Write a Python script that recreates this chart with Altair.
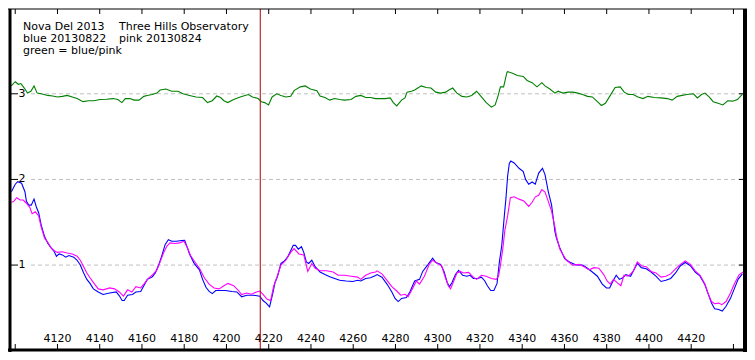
import altair as alt
import pandas as pd

# ---- data (wavelength in Angstrom, relative flux) ----
BLUE = [(4098.2,1.856),(4100.0,1.944),(4101.2,1.974),(4103.0,1.956),(4104.6,1.856),(4105.3,1.744),(4106.4,1.70),(4107.6,1.70),(4108.9,1.77),(4110.0,1.678),(4111.1,1.611),(4112.3,1.467),(4113.9,1.333),(4115.4,1.256),(4116.9,1.203),(4118.5,1.156),(4119.5,1.103),(4120.8,1.13),(4122.3,1.119),(4123.9,1.092),(4125.4,1.111),(4127.7,1.092),(4129.3,1.056),(4130.8,1.0),(4132.4,0.908),(4133.9,0.833),(4135.4,0.786),(4137.0,0.722),(4139.3,0.686),(4141.6,0.656),(4144.7,0.674),(4147.8,0.686),(4149.3,0.641),(4150.6,0.586),(4151.6,0.586),(4153.2,0.648),(4155.5,0.656),(4157.1,0.686),(4159.4,0.692),(4160.5,0.741),(4162.5,0.833),(4164.8,0.859),(4166.3,0.908),(4167.9,1.0),(4169.4,1.111),(4171.0,1.241),(4172.5,1.297),(4174.1,1.278),(4176.4,1.278),(4178.7,1.286),(4180.2,1.289),(4181.5,1.203),(4182.5,1.13),(4184.7,1.02),(4187.2,0.944),(4188.7,0.833),(4190.3,0.741),(4191.8,0.692),(4193.3,0.667),(4194.9,0.703),(4197.2,0.703),(4199.5,0.703),(4202.6,0.692),(4204.9,0.686),(4207.2,0.63),(4209.6,0.648),(4212.7,0.648),(4215.8,0.637),(4217.3,0.586),(4218.8,0.556),(4220.4,0.511),(4221.9,0.667),(4223.0,0.797),(4224.2,0.87),(4225.8,1.019),(4227.3,1.044),(4228.9,1.092),(4230.4,1.167),(4231.6,1.23),(4232.7,1.23),(4234.0,1.186),(4235.5,1.214),(4236.6,1.148),(4237.8,1.037),(4238.9,1.019),(4240.4,1.056),(4242.0,0.981),(4244.3,0.919),(4246.6,0.889),(4248.9,0.863),(4251.2,0.844),(4253.6,0.822),(4256.7,0.814),(4259.8,0.808),(4262.1,0.822),(4263.6,0.814),(4265.9,0.844),(4268.2,0.852),(4270.6,0.878),(4271.3,0.889),(4273.6,0.859),(4276.0,0.778),(4278.3,0.686),(4279.8,0.611),(4281.3,0.574),(4282.9,0.611),(4285.2,0.622),(4286.8,0.686),(4289.1,0.814),(4291.4,0.833),(4292.9,0.926),(4295.2,1.0),(4297.6,1.081),(4299.1,1.03),(4301.4,1.008),(4303.0,0.926),(4304.5,0.797),(4305.6,0.748),(4306.8,0.797),(4308.4,0.889),(4309.9,0.937),(4311.8,0.881),(4313.8,0.87),(4315.3,0.881),(4316.9,0.844),(4318.9,0.844),(4320.7,0.859),(4322.3,0.814),(4323.5,0.759),(4325.1,0.703),(4326.6,0.703),(4328.1,0.786),(4329.2,1.037),(4330.3,1.222),(4331.6,1.592),(4332.3,1.778),(4333.1,2.037),(4333.9,2.186),(4334.6,2.214),(4336.2,2.192),(4338.5,2.13),(4340.5,2.092),(4341.6,2.0),(4343.1,1.944),(4344.7,1.97),(4346.2,1.944),(4347.8,2.074),(4349.6,2.13),(4350.8,2.056),(4352.4,1.852),(4353.9,1.703),(4355.5,1.389),(4356.2,1.314),(4357.8,1.203),(4360.1,1.074),(4362.4,1.037),(4365.5,1.0),(4368.6,1.0),(4370.9,0.963),(4373.2,0.919),(4375.6,0.87),(4377.9,0.778),(4379.9,0.733),(4381.4,0.733),(4383.0,0.814),(4384.5,0.881),(4386.0,0.833),(4387.6,0.852),(4389.1,0.889),(4391.3,0.87),(4393.3,0.963),(4394.5,1.019),(4396.4,0.97),(4398.7,0.956),(4401.0,0.919),(4403.3,0.87),(4405.7,0.808),(4408.0,0.822),(4410.3,0.844),(4412.6,0.908),(4414.9,0.992),(4417.2,1.03),(4419.6,0.992),(4421.9,0.919),(4424.2,0.87),(4426.5,0.77),(4428.0,0.667),(4429.6,0.556),(4431.1,0.489),(4433.0,0.481),(4434.7,0.463),(4436.5,0.519),(4438.6,0.611),(4440.4,0.722),(4442.2,0.833),(4444.2,0.897)]

PINK = [(4098.2,1.733),(4099.2,1.741),(4100.7,1.786),(4102.3,1.759),(4103.8,1.759),(4105.3,1.722),(4106.9,1.674),(4108.0,1.60),(4109.5,1.622),(4111.1,1.574),(4112.3,1.444),(4113.9,1.314),(4115.4,1.267),(4116.9,1.203),(4118.5,1.167),(4120.0,1.148),(4122.3,1.156),(4124.6,1.141),(4127.0,1.13),(4129.3,1.103),(4130.8,1.056),(4132.4,0.981),(4133.9,0.908),(4135.4,0.852),(4137.3,0.786),(4139.3,0.722),(4141.6,0.711),(4144.7,0.733),(4147.0,0.722),(4149.3,0.686),(4151.2,0.637),(4153.2,0.711),(4155.2,0.686),(4157.1,0.748),(4159.4,0.733),(4160.9,0.778),(4163.0,0.844),(4164.8,0.881),(4167.1,0.944),(4168.6,1.037),(4170.2,1.141),(4171.8,1.222),(4173.3,1.259),(4175.6,1.252),(4177.9,1.259),(4179.9,1.278),(4181.5,1.203),(4183.0,1.111),(4184.5,1.056),(4187.2,0.963),(4189.5,0.852),(4191.8,0.778),(4194.1,0.733),(4196.5,0.722),(4198.8,0.759),(4200.7,0.786),(4203.4,0.759),(4205.7,0.703),(4207.2,0.656),(4209.6,0.674),(4211.9,0.659),(4214.2,0.686),(4215.8,0.697),(4217.3,0.659),(4219.3,0.60),(4220.9,0.586),(4222.4,0.759),(4223.9,0.859),(4225.8,1.0),(4228.1,1.056),(4230.4,1.148),(4232.0,1.192),(4234.3,1.13),(4236.6,1.119),(4238.5,0.926),(4240.4,1.019),(4242.0,0.963),(4244.3,0.933),(4247.4,0.933),(4250.5,0.919),(4252.8,0.881),(4255.9,0.881),(4259.0,0.87),(4262.1,0.859),(4263.6,0.833),(4265.9,0.881),(4268.2,0.908),(4270.6,0.919),(4271.3,0.933),(4273.6,0.897),(4276.0,0.822),(4278.3,0.748),(4280.6,0.697),(4282.5,0.648),(4284.5,0.659),(4286.0,0.63),(4288.0,0.722),(4289.9,0.814),(4291.4,0.778),(4293.7,0.87),(4296.0,1.008),(4297.6,1.056),(4299.9,1.019),(4301.9,0.992),(4303.4,0.87),(4305.0,0.759),(4306.1,0.722),(4307.6,0.814),(4309.1,0.908),(4310.7,0.926),(4312.2,0.908),(4314.6,0.914),(4316.9,0.859),(4318.4,0.833),(4320.7,0.881),(4323.0,0.87),(4325.4,0.844),(4327.7,0.833),(4328.8,0.87),(4329.7,1.0),(4330.8,1.186),(4331.8,1.408),(4333.1,1.574),(4334.4,1.786),(4336.2,1.797),(4338.5,1.77),(4340.8,1.748),(4343.1,1.686),(4344.7,1.733),(4346.2,1.797),(4347.8,1.814),(4349.3,1.881),(4350.8,1.852),(4352.4,1.741),(4353.9,1.63),(4355.5,1.444),(4356.2,1.341),(4357.8,1.186),(4360.9,1.056),(4364.0,1.0),(4367.0,1.008),(4369.3,0.981),(4371.7,0.944),(4374.0,0.97),(4376.3,0.963),(4378.6,0.889),(4380.2,0.814),(4381.7,0.778),(4383.2,0.833),(4384.8,0.797),(4386.7,0.759),(4388.2,0.881),(4390.2,0.87),(4392.5,0.926),(4394.5,1.037),(4396.4,0.992),(4398.7,0.981),(4401.0,0.926),(4403.3,0.908),(4405.7,0.859),(4408.0,0.87),(4410.3,0.897),(4412.6,0.956),(4414.9,1.008),(4417.2,1.048),(4419.6,1.008),(4421.9,0.933),(4424.2,0.881),(4426.5,0.778),(4428.0,0.667),(4429.6,0.574),(4431.1,0.548),(4433.0,0.556),(4434.5,0.537),(4436.5,0.574),(4438.6,0.674),(4440.4,0.778),(4442.7,0.889),(4444.7,0.919)]

GREEN = [(4098.1,3.092),(4100.0,3.141),(4101.5,3.111),(4102.7,3.119),(4104.3,3.067),(4105.8,3.008),(4107.4,3.03),(4108.9,3.092),(4110.4,3.008),(4112.3,3.0),(4115.4,2.981),(4117.7,2.974),(4120.0,2.963),(4122.3,2.97),(4124.6,2.981),(4127.0,2.963),(4129.3,2.944),(4132.1,2.908),(4134.7,2.919),(4137.3,2.919),(4140.1,2.933),(4143.2,2.937),(4146.3,2.944),(4148.6,2.933),(4150.5,2.897),(4152.1,2.944),(4154.3,2.944),(4156.3,2.926),(4158.6,2.926),(4160.9,2.97),(4162.5,2.981),(4164.8,2.992),(4167.1,3.008),(4168.6,3.044),(4171.3,3.056),(4174.1,3.03),(4177.1,3.03),(4179.4,3.0),(4182.5,2.981),(4185.6,2.963),(4188.7,2.956),(4191.0,2.897),(4193.3,2.919),(4195.4,2.974),(4197.2,2.956),(4198.8,2.919),(4200.6,2.897),(4203.4,2.933),(4206.5,2.963),(4208.8,2.981),(4210.4,2.992),(4212.3,2.963),(4215.0,2.944),(4216.5,2.908),(4218.1,2.897),(4219.9,2.87),(4221.6,2.963),(4223.8,3.0),(4225.8,2.981),(4228.1,2.963),(4230.4,2.97),(4232.0,3.037),(4235.0,3.081),(4237.3,3.092),(4239.7,3.056),(4242.8,3.037),(4244.3,2.974),(4246.6,2.956),(4248.9,2.926),(4251.2,2.944),(4253.6,2.933),(4255.9,2.926),(4259.0,2.933),(4261.3,2.97),(4263.6,2.981),(4265.9,2.956),(4268.2,2.956),(4270.6,2.944),(4272.9,2.944),(4275.2,2.944),(4277.5,2.952),(4279.0,2.897),(4280.6,2.859),(4282.9,2.926),(4284.5,2.952),(4285.5,3.019),(4287.6,3.03),(4289.1,3.044),(4290.6,3.067),(4292.2,3.092),(4294.5,3.074),(4296.8,3.067),(4299.1,3.019),(4301.4,3.008),(4303.8,3.019),(4305.3,3.044),(4307.1,3.067),(4309.1,3.008),(4311.5,2.97),(4313.8,2.963),(4316.1,2.981),(4318.4,3.03),(4320.7,2.963),(4323.0,2.897),(4325.4,2.844),(4327.2,2.87),(4328.5,2.97),(4329.7,3.081),(4331.2,3.081),(4332.8,3.252),(4333.1,3.259),(4335.4,3.241),(4337.7,3.214),(4340.5,3.203),(4342.3,3.156),(4344.7,3.13),(4347.0,3.081),(4349.3,3.13),(4350.8,3.092),(4353.1,3.056),(4355.5,3.008),(4357.0,3.03),(4359.3,3.008),(4361.7,3.019),(4364.0,3.019),(4366.3,3.008),(4368.6,2.992),(4370.9,2.97),(4373.2,2.963),(4375.6,2.908),(4377.5,2.863),(4379.4,2.889),(4381.7,2.981),(4384.0,3.074),(4386.4,3.081),(4388.3,3.019),(4390.2,2.992),(4392.5,2.992),(4394.8,2.963),(4397.2,2.944),(4399.5,2.97),(4402.5,2.956),(4405.7,2.952),(4408.7,2.944),(4411.0,2.926),(4413.4,2.97),(4415.7,2.981),(4418.0,2.992),(4421.1,3.0),(4422.9,2.952),(4424.9,2.992),(4426.5,3.008),(4428.5,2.963),(4430.4,2.908),(4432.7,2.889),(4435.0,2.87),(4437.3,2.919),(4439.6,2.914),(4441.9,2.933),(4444.2,2.992)]

X_TICKS = [4100, 4120, 4140, 4160, 4180, 4200, 4220, 4240, 4260, 4280, 4300, 4320, 4340, 4360, 4380, 4400, 4420, 4440]
X_LABELS = [4120, 4140, 4160, 4180, 4200, 4220, 4240, 4260, 4280, 4300, 4320, 4340, 4360, 4380, 4400, 4420]
Y_TICKS = [1, 2, 3]
MARKER_WL = [4216.0]
TITLE_LEFT = ["Nova Del 2013", "blue 20130822", "green = blue/pink"]
TITLE_RIGHT = ["Three Hills Observatory", "pink 20130824"]

W, H = 733, 340
FONT = "DejaVu Sans"

xs = alt.Scale(domain=[4098, 4445], nice=False, zero=False)
ys = alt.Scale(domain=[0.02, 3.99], nice=False, zero=False)


def series_df(pairs):
    return pd.DataFrame(pairs, columns=["wl", "flux"])


def line(pairs, color):
    return alt.Chart(series_df(pairs)).mark_line(color=color, strokeWidth=1.1).encode(
        x=alt.X("wl:Q", scale=xs, axis=None),
        y=alt.Y("flux:Q", scale=ys, axis=None),
        order="wl:Q",
    )


ydf = pd.DataFrame({"v": Y_TICKS, "lab": [str(v) for v in Y_TICKS]})
xtdf = pd.DataFrame({"w": X_TICKS})
xldf = pd.DataFrame({"w": X_LABELS, "lab": [str(v) for v in X_LABELS]})

grid = alt.Chart(ydf).mark_rule(color="#c0c0c0", strokeDash=[4, 3], strokeWidth=1).encode(
    y=alt.Y("v:Q", scale=ys, axis=None), x=alt.value(20), x2=alt.value(W)
)

ytick_left = alt.Chart(ydf).mark_rule(color="black").encode(
    y=alt.Y("v:Q", scale=ys, axis=None), x=alt.value(0), x2=alt.value(7)
)
ytick_right = alt.Chart(ydf).mark_rule(color="black").encode(
    y=alt.Y("v:Q", scale=ys, axis=None), x=alt.value(W - 5), x2=alt.value(W)
)
ylab = alt.Chart(ydf).mark_text(font=FONT, fontSize=11, color="black", align="center", baseline="middle").encode(
    y=alt.Y("v:Q", scale=ys, axis=None), x=alt.value(11), text="lab:N"
)

xtick_bottom = alt.Chart(xtdf).mark_rule(color="black").encode(
    x=alt.X("w:Q", scale=xs, axis=None), y=alt.value(H - 5), y2=alt.value(H)
)
xtick_top = alt.Chart(xtdf).mark_rule(color="black").encode(
    x=alt.X("w:Q", scale=xs, axis=None), y=alt.value(0), y2=alt.value(5)
)
xlab = alt.Chart(xldf).mark_text(font=FONT, fontSize=11, color="black", align="center", baseline="middle").encode(
    x=alt.X("w:Q", scale=xs, axis=None), y=alt.value(H - 10), text="lab:N"
)

marker = alt.Chart(pd.DataFrame({"w": MARKER_WL})).mark_rule(color="#b00000", strokeWidth=1).encode(
    x=alt.X("w:Q", scale=xs, axis=None), y=alt.value(0), y2=alt.value(H)
)

title_layers = []
for i, t in enumerate(TITLE_LEFT):
    title_layers.append(
        alt.Chart(pd.DataFrame({"t": [t]})).mark_text(
            font=FONT, fontSize=11, color="black", align="left", baseline="alphabetic"
        ).encode(x=alt.value(12), y=alt.value(20.5 + 12.4 * i), text="t:N")
    )
for i, t in enumerate(TITLE_RIGHT):
    title_layers.append(
        alt.Chart(pd.DataFrame({"t": [t]})).mark_text(
            font=FONT, fontSize=11, color="black", align="left", baseline="alphabetic"
        ).encode(x=alt.value(108), y=alt.value(20.5 + 12.4 * i), text="t:N")
    )

edge_df = pd.DataFrame({"k": [0]})
border_top = alt.Chart(edge_df).mark_rule(color="black", strokeWidth=1).encode(
    x=alt.value(-3), x2=alt.value(W + 3), y=alt.value(0)
)
border_bottom = alt.Chart(edge_df).mark_rule(color="black", strokeWidth=3).encode(
    x=alt.value(-3), x2=alt.value(W + 3), y=alt.value(H + 1)
)
border_left = alt.Chart(edge_df).mark_rule(color="black", strokeWidth=3).encode(
    x=alt.value(-1), y=alt.value(0), y2=alt.value(H + 3)
)
border_right = alt.Chart(edge_df).mark_rule(color="black", strokeWidth=4).encode(
    x=alt.value(W + 1), y=alt.value(0), y2=alt.value(H + 3)
)

chart = alt.layer(
    grid,
    line(GREEN, "#008000"),
    line(BLUE, "#0000ff"),
    line(PINK, "#ff00ff"),
    ytick_left, ytick_right, ylab,
    xtick_bottom, xtick_top, xlab,
    *title_layers,
    marker,
    border_top, border_bottom, border_left, border_right,
).properties(
    width=W,
    height=H,
    autosize=alt.AutoSizeParams(type="none"),
    padding={"left": 3, "right": 3, "top": 1, "bottom": 3},
    background="white",
).configure_view(stroke=None)

chart.save("out.html", embed_options={"renderer": "svg", "actions": False})
